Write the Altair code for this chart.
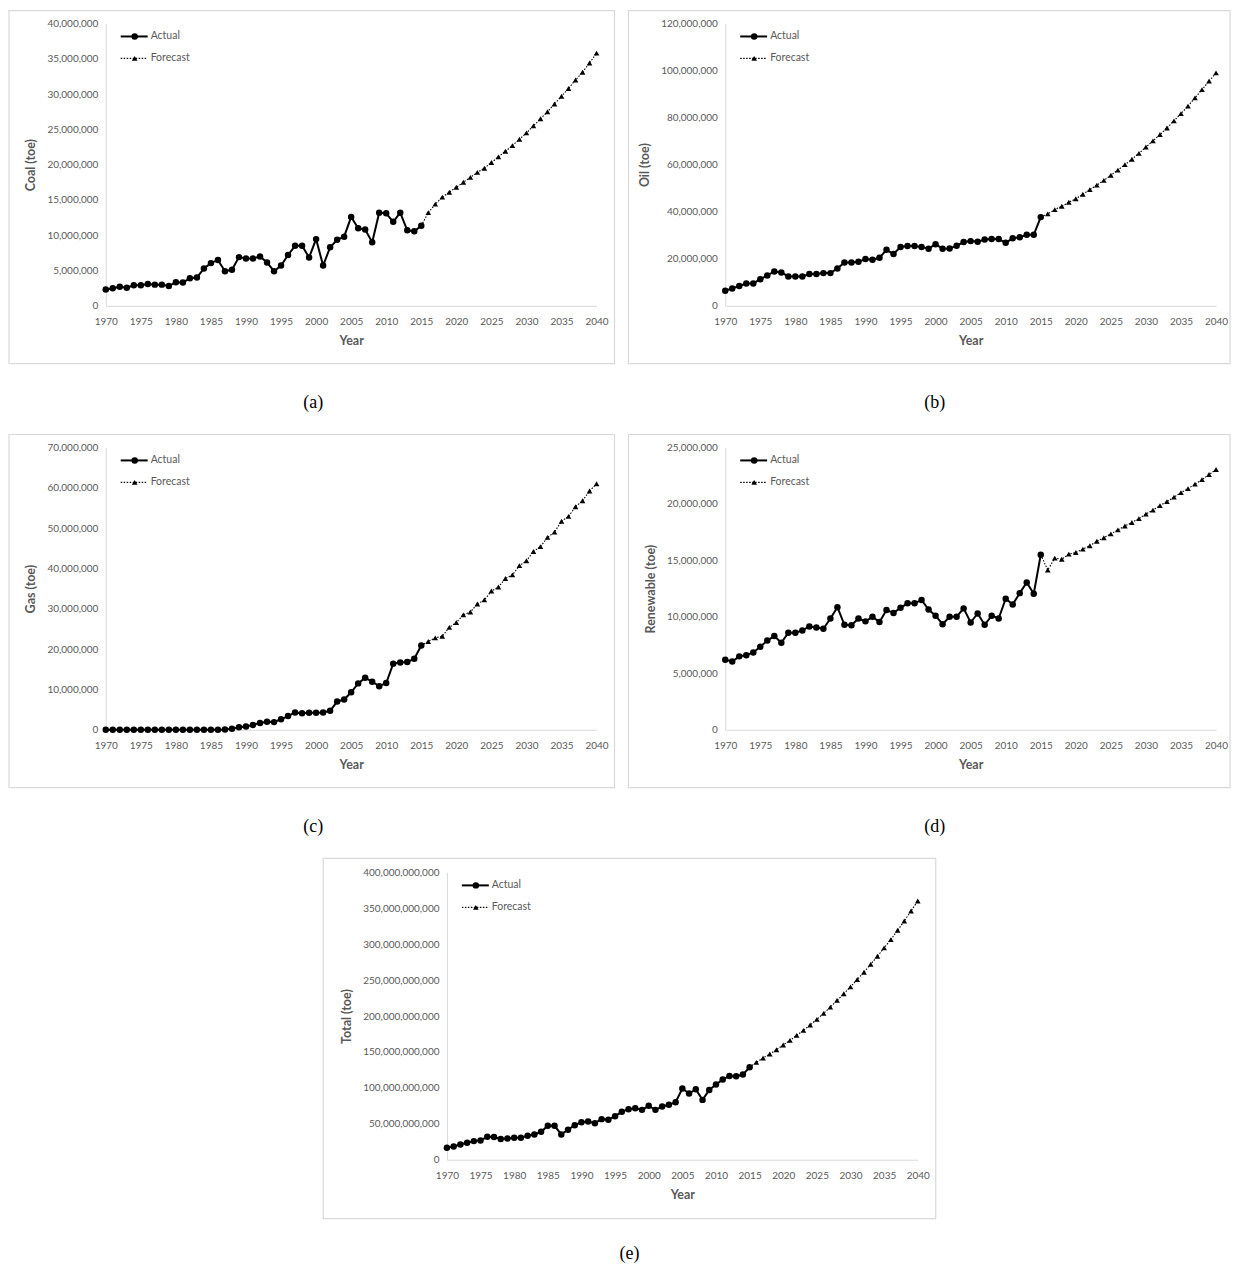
import altair as alt
import pandas as pd

years_actual = list(range(1970, 2016))
years_forecast = list(range(2016, 2041))
x_ticks = list(range(1970, 2041, 5))

# values in millions of toe (coal, oil, gas, renewable), billions for total
coal_actual = [2.3, 2.5, 2.7, 2.55, 2.9, 2.9, 3.1, 3.0, 3.0, 2.8,
               3.35, 3.3, 3.9, 4.0, 5.3, 6.05, 6.5, 4.9, 5.1, 6.9,
               6.7, 6.7, 7.0, 6.15, 4.9, 5.7, 7.2, 8.5, 8.5, 6.85,
               9.45, 5.7, 8.3, 9.35, 9.8, 12.6, 11.0, 10.8, 9.0, 13.2,
               13.1, 11.9, 13.2, 10.7, 10.55, 11.35]
coal_forecast = [13.2, 14.4, 15.4, 16.1, 16.8, 17.5, 18.2, 18.9, 19.5, 20.3,
                 21.1, 21.9, 22.7, 23.6, 24.5, 25.5, 26.5, 27.5, 28.6, 29.7,
                 30.8, 32.0, 33.1, 34.4, 35.8]

oil_actual = [6.4, 7.4, 8.4, 9.5, 9.5, 11.3, 12.9, 14.6, 14.2, 12.5,
              12.5, 12.5, 13.5, 13.5, 13.9, 13.9, 15.9, 18.4, 18.4, 18.7,
              19.9, 19.6, 20.4, 23.8, 22.0, 25.0, 25.4, 25.4, 25.0, 24.3,
              26.2, 24.3, 24.4, 25.5, 27.1, 27.5, 27.2, 28.2, 28.4, 28.4,
              26.8, 28.7, 29.1, 30.2, 30.2, 37.7]
oil_forecast = [39.1, 40.9, 42.3, 44.0, 45.5, 47.4, 49.4, 51.3, 53.3, 55.5,
                57.7, 60.0, 62.3, 64.8, 67.5, 70.1, 72.8, 75.6, 78.6, 81.7,
                84.9, 88.4, 91.9, 95.5, 99.0]

gas_actual = [0, 0, 0, 0, 0, 0.02, 0.03, 0.03, 0.03, 0.03,
              0.03, 0.03, 0.03, 0.03, 0.03, 0.03, 0.03, 0.05, 0.25, 0.6,
              0.8, 1.2, 1.7, 2.0, 1.9, 2.6, 3.4, 4.3, 4.1, 4.2,
              4.2, 4.3, 4.7, 7.0, 7.5, 9.3, 11.5, 12.9, 11.9, 10.8,
              11.6, 16.4, 16.7, 16.8, 17.6, 20.9]
gas_forecast = [21.9, 22.8, 23.2, 25.4, 26.6, 28.5, 29.2, 31.2, 32.2, 34.4,
                35.4, 37.5, 38.4, 40.7, 41.9, 44.2, 45.4, 47.7, 49.0, 51.7,
                52.9, 55.3, 56.8, 59.2, 61.0]

renew_actual = [6.2, 6.05, 6.5, 6.6, 6.85, 7.35, 7.9, 8.3, 7.7, 8.6,
                8.6, 8.8, 9.15, 9.05, 8.95, 9.85, 10.85, 9.3, 9.25, 9.85,
                9.6, 10.0, 9.55, 10.6, 10.35, 10.8, 11.2, 11.2, 11.5, 10.65,
                10.1, 9.35, 10.0, 10.0, 10.75, 9.5, 10.3, 9.3, 10.1, 9.85,
                11.6, 11.1, 12.1, 13.05, 12.05, 15.5]
renew_forecast = [14.15, 15.2, 15.1, 15.55, 15.7, 16.0, 16.3, 16.7, 17.0, 17.35,
                  17.7, 18.05, 18.35, 18.7, 19.1, 19.45, 19.85, 20.2, 20.6, 21.0,
                  21.35, 21.75, 22.15, 22.6, 23.05]

total_actual = [16.7, 18.5, 21.3, 23.6, 25.9, 26.9, 31.9, 31.5, 28.7, 29.6,
                30.6, 30.6, 33.3, 35.2, 38.9, 47.2, 47.2, 35.2, 41.7, 48.1,
                52.3, 53.2, 50.9, 56.5, 55.6, 60.6, 66.7, 70.4, 71.8, 69.4,
                75.0, 69.4, 74.1, 76.4, 80.1, 99.1, 92.1, 98.1, 83.3, 97.2,
                104.6, 111.6, 116.7, 116.2, 118.5, 128.7]
total_forecast = [135.6, 141.7, 147.2, 153.2, 159.7, 166.2, 173.1, 180.1, 187.5, 195.4,
                  203.7, 212.5, 221.8, 231.0, 240.7, 250.9, 261.1, 272.2, 283.3, 294.9,
                  306.5, 319.4, 332.4, 346.3, 360.2]

FONT = "Lato"
GRAY = "#595959"
LIGHT = "#d9d9d9"
one = pd.DataFrame({"k": [0]})


def panel(actual, forecast, unit, ymax, ystep, ytitle, caption,
          W, H, box, cap):
    df_a = pd.DataFrame({"year": years_actual, "v": [a * unit for a in actual]})
    df_f = pd.DataFrame({"year": [2015] + years_forecast,
                         "v": [actual[-1] * unit] + [f * unit for f in forecast]})
    x = alt.X("year:Q",
              scale=alt.Scale(domain=[1970, 2040], nice=False, zero=False),
              axis=alt.Axis(values=x_ticks, format="d", title="Year",
                            labelFlush=False, labelOverlap=False,
                            labelPadding=11, titlePadding=8))
    y = alt.Y("v:Q",
              scale=alt.Scale(domain=[0, ymax], nice=False),
              axis=alt.Axis(values=list(range(0, ymax + 1, ystep)), format=",.0f",
                            labelFlush=False, labelOverlap=False,
                            title=ytitle, labelPadding=8, titlePadding=9))
    bx0, bx1, by0, by1 = box
    frame = alt.Chart(one).mark_rect(fillOpacity=0, stroke=LIGHT, strokeWidth=1.2).encode(
        x=alt.value(bx0), x2=alt.value(bx1), y=alt.value(by0), y2=alt.value(by1))
    f_line = alt.Chart(df_f).mark_line(color="black", strokeWidth=1.1,
                                       strokeDash=[1.5, 1.5]).encode(x=x, y=y)
    f_pts = alt.Chart(df_f).transform_filter("datum.year > 2015").mark_point(
        shape="triangle-up", filled=True, size=32, color="black", opacity=1).encode(x=x, y=y)
    a_line = alt.Chart(df_a).mark_line(color="black", strokeWidth=2).encode(x=x, y=y)
    a_pts = alt.Chart(df_a).mark_circle(size=42, color="black", opacity=1).encode(x=x, y=y)
    # legend (decoration)
    lg1 = alt.Chart(one).mark_rule(color="black", strokeWidth=2).encode(
        x=alt.value(15), x2=alt.value(42), y=alt.value(13))
    lg1p = alt.Chart(one).mark_circle(size=42, color="black", opacity=1).encode(
        x=alt.value(29), y=alt.value(13))
    lg1t = alt.Chart(one).mark_text(align="left", baseline="middle", fontSize=10.5,
                                    font=FONT, color=GRAY).encode(
        x=alt.value(45), y=alt.value(13), text=alt.value("Actual"))
    lg2 = alt.Chart(one).mark_rule(color="black", strokeWidth=1.1, strokeDash=[1.5, 1.5]).encode(
        x=alt.value(15), x2=alt.value(42), y=alt.value(35))
    lg2p = alt.Chart(one).mark_point(shape="triangle-up", filled=True, size=32,
                                     color="black", opacity=1).encode(
        x=alt.value(29), y=alt.value(35))
    lg2t = alt.Chart(one).mark_text(align="left", baseline="middle", fontSize=10.5,
                                    font=FONT, color=GRAY).encode(
        x=alt.value(45), y=alt.value(35), text=alt.value("Forecast"))
    capt = alt.Chart(one).mark_text(align="center", baseline="middle", fontSize=18,
                                    font="Liberation Serif", color="black").encode(
        x=alt.value(cap[0]), y=alt.value(cap[1]), text=alt.value(caption))
    return alt.layer(frame, f_line, f_pts, a_line, a_pts,
                     lg1, lg1p, lg1t, lg2, lg2p, lg2t, capt).properties(width=W, height=H)


W, H = 492, 283
pa = panel(coal_actual, coal_forecast, 1_000_000, 40_000_000, 5_000_000,
           "Coal (toe)", "(a)", W, H, (-97, W + 18, -13, H + 58), (208, H + 97))
pb = panel(oil_actual, oil_forecast, 1_000_000, 120_000_000, 20_000_000,
           "Oil (toe)", "(b)", W, H, (-97, W + 14, -13, H + 58), (210, H + 97))
pc = panel(gas_actual, gas_forecast, 1_000_000, 70_000_000, 10_000_000,
           "Gas (toe)", "(c)", W, H, (-97, W + 18, -13, H + 58), (208, H + 97))
pd_ = panel(renew_actual, renew_forecast, 1_000_000, 25_000_000, 5_000_000,
            "Renewable (toe)", "(d)", W, H, (-97, W + 14, -13, H + 58), (210, H + 97))
pe = panel(total_actual, total_forecast, 1_000_000_000, 400_000_000_000, 50_000_000_000,
           "Total (toe)", "(e)", 472, 288, (-124, 472 + 18, -14, 288 + 59), (183, 288 + 95))

spacer = alt.Chart(one).mark_text(opacity=0).encode(
    x=alt.value(0), y=alt.value(0), text=alt.value("")).properties(width=217, height=10)

top = alt.vconcat(alt.hconcat(pa, pb, spacing=12), alt.hconcat(pc, pd_, spacing=12),
                  spacing=22)
chart = alt.vconcat(top, alt.hconcat(spacer, pe, spacing=0), spacing=22).properties(
    padding=0, background="white"
).configure_view(stroke=None).configure_axis(
    grid=False, ticks=False, domain=True, domainColor=LIGHT, domainWidth=1,
    labelFont=FONT, labelFontSize=10, labelColor=GRAY,
    titleFont=FONT, titleFontSize=12.5, titleFontWeight="bold", titleColor=GRAY
)

chart.save("out.html", embed_options={"renderer": "svg", "actions": False})
